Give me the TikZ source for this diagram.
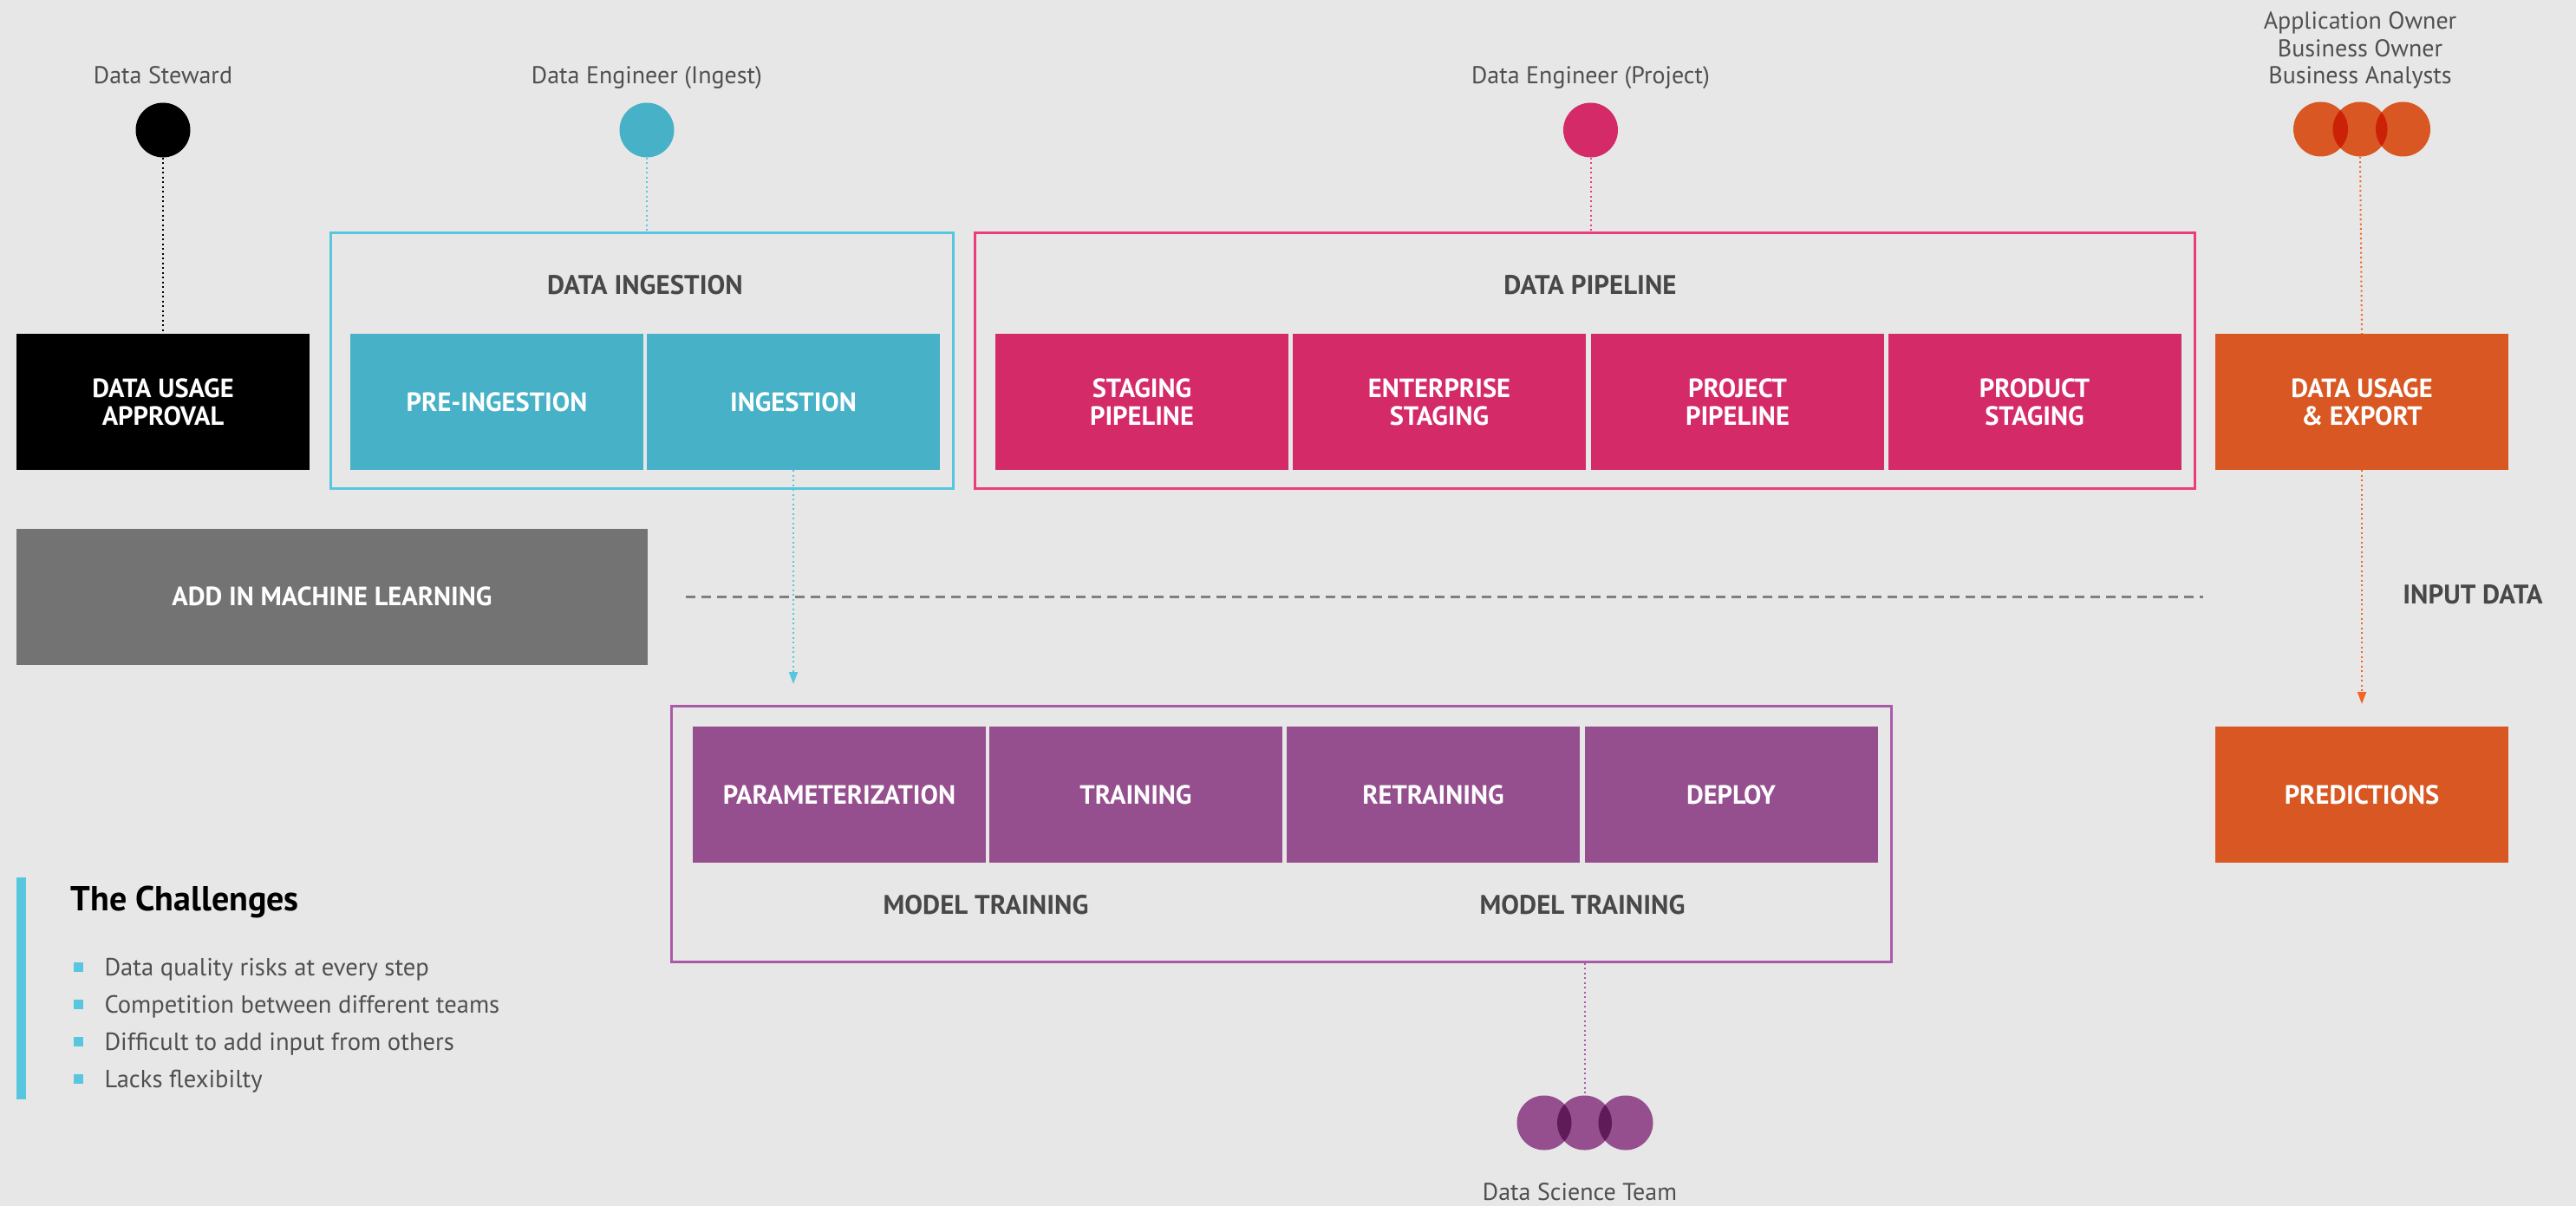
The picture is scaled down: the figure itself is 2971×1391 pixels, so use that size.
\documentclass[tikz,border=0pt]{standalone}
\usepackage{fontspec}
\setmainfont{PT Sans}
\usetikzlibrary{arrows.meta}
\definecolor{bg}{HTML}{E7E7E7}
\definecolor{cyanfill}{HTML}{46B1C7}
\definecolor{cyanline}{HTML}{58C6DF}
\definecolor{pinkfill}{HTML}{D42A68}
\definecolor{pinkline}{HTML}{EC3C7D}
\definecolor{orangefill}{HTML}{D85722}
\definecolor{orangedark}{HTML}{CB2106}
\definecolor{orangearrow}{HTML}{F26522}
\definecolor{purplefill}{HTML}{954E8E}
\definecolor{purpleline}{HTML}{A95BA8}
\definecolor{purpledark}{HTML}{5F1A58}
\definecolor{mlgray}{HTML}{737373}
\definecolor{dashgray}{HTML}{808080}
\definecolor{labelgray}{HTML}{4F4F4F}
\definecolor{sectgray}{HTML}{484848}
\begin{document}
\begin{tikzpicture}[x=1pt,y=-1pt,
  box/.style={rectangle, minimum width=338pt, minimum height=157pt, inner sep=0pt,
    text=white, align=center, font=\bfseries\fontsize{30.5}{32}\selectfont},
  frame/.style={rectangle, draw, line width=3pt, inner sep=0pt},
  role/.style={text=labelgray, align=center, font=\fontsize{28}{31.5}\selectfont},
  section/.style={text=sectgray, font=\bfseries\fontsize{31}{34}\selectfont},
  person/.style={circle, minimum size=63pt, inner sep=0pt},
  dotline/.style={line width=2pt, dash pattern=on 2pt off 3.5pt},
  tip/.style={-{Triangle[length=14pt,width=10pt]}},
  bullet/.style={text=labelgray, font=\fontsize{28.6}{34}\selectfont, anchor=base west},
  sq/.style={rectangle, fill=cyanline, minimum size=11pt, inner sep=0pt}
]
\useasboundingbox (0,0) rectangle (2971,1391);
\fill[bg] (0,0) rectangle (2971,1391);

% ---- role labels
\node[role, anchor=base] (lsteward) at (188,96.5) {Data Steward};
\node[role, anchor=base] (lingest) at (746,96.5) {Data Engineer (Ingest)};
\node[role, anchor=base] (lproject) at (1834.5,96.5) {Data Engineer (Project)};
\node[role] (lowners) at (2722,58) {Application Owner\\Business Owner\\Business Analysts};

% ---- person circles
\node[person, fill=black] (psteward) at (188,150) {};
\node[person, fill=cyanfill] (pingest) at (746,150) {};
\node[person, fill=pinkfill] (pproject) at (1834.5,150) {};

% orange group
\node[person, fill=orangefill] (po1) at (2676.5,149) {};
\node[person, fill=orangefill] (po2) at (2722,149) {};
\node[person, fill=orangefill] (po3) at (2771.5,149) {};
\begin{scope}
  \clip (2676.5,149) circle (31.5);
  \fill[orangedark] (2722,149) circle (31.5);
\end{scope}
\begin{scope}
  \clip (2722,149) circle (31.5);
  \fill[orangedark] (2771.5,149) circle (31.5);
\end{scope}

% purple group
\node[person, fill=purplefill] (pp1) at (1781,1295) {};
\node[person, fill=purplefill] (pp2) at (1827.5,1295) {};
\node[person, fill=purplefill] (pp3) at (1875,1295) {};
\begin{scope}
  \clip (1781,1295) circle (31.5);
  \fill[purpledark] (1827.5,1295) circle (31.5);
\end{scope}
\begin{scope}
  \clip (1827.5,1295) circle (31.5);
  \fill[purpledark] (1875,1295) circle (31.5);
\end{scope}

% ---- frames
\node[frame, draw=cyanline, minimum width=718pt, minimum height=295pt] (fingest) at (740,415.5) {};
\node[frame, draw=pinkline, minimum width=1406.5pt, minimum height=295pt] (fpipe) at (1828,415.5) {};
\node[frame, draw=purpleline, minimum width=1407pt, minimum height=295pt] (fmodel) at (1478.3,961.5) {};

% ---- section labels
\node[section] (singest) at (744,329) {DATA INGESTION};
\node[section] (spipe) at (1834,329) {DATA PIPELINE};
\node[section] (smodel1) at (1137,1044) {MODEL TRAINING};
\node[section] (smodel2) at (1825,1044) {MODEL TRAINING};
\node[section] (sinput) at (2852,686) {INPUT DATA};

% ---- top row boxes
\node[box, fill=black] (approval) at (188,463.5) {DATA USAGE\\APPROVAL};
\node[box, fill=cyanfill] (preing) at (573,463.5) {PRE-INGESTION};
\node[box, fill=cyanfill] (ing) at (915,463.5) {INGESTION};
\node[box, fill=pinkfill] (staging) at (1317,463.5) {STAGING\\PIPELINE};
\node[box, fill=pinkfill] (enterprise) at (1660,463.5) {ENTERPRISE\\STAGING};
\node[box, fill=pinkfill] (projpipe) at (2004,463.5) {PROJECT\\PIPELINE};
\node[box, fill=pinkfill] (product) at (2346.5,463.5) {PRODUCT\\STAGING};
\node[box, fill=orangefill] (export) at (2724,463.5) {DATA USAGE\\\& EXPORT};

% ---- ML box
\node[box, fill=mlgray, minimum width=728pt] (ml) at (383,688) {ADD IN MACHINE LEARNING};

% ---- model row
\node[box, fill=purplefill] (param) at (968,916.5) {PARAMETERIZATION};
\node[box, fill=purplefill] (train) at (1310,916.5) {TRAINING};
\node[box, fill=purplefill] (retrain) at (1653,916.5) {RETRAINING};
\node[box, fill=purplefill] (deploy) at (1996.5,916.5) {DEPLOY};
\node[box, fill=orangefill] (pred) at (2724,916.5) {PREDICTIONS};

% ---- connectors
\draw[dotline, black] (psteward.south) -- (approval.north);
\draw[dotline, cyanline] (pingest.south) -- (pingest.south |- fingest.north);
\draw[dotline, pinkline] (pproject.south) -- (pproject.south |- fpipe.north);
\draw[dotline, orangearrow] (po2.south) -- (export.north);
\draw[dotline, purpleline] (pp2.north |- fmodel.south) -- (pp2.north);

\coordinate (ingend) at (915,789);
\draw[dotline, cyanline, tip] (ing.south) -- (ingend);
\coordinate (expend) at (2724,812);
\draw[dotline, orangearrow, tip] (export.south) -- (expend);

\coordinate (dashA) at (791,688.5);
\coordinate (dashB) at (2541,688.5);
\draw[dashgray, line width=2.5pt, dash pattern=on 11pt off 7pt] (dashA) -- (dashB);

% ---- challenges
\fill[cyanline] (19,1012) rectangle (29.5,1267.5);
\node[anchor=base west, text=black, font=\bfseries\fontsize{40}{44}\selectfont] (chal) at (78,1050) {The Challenges};
\node[sq] (b1) at (90.5,1115) {};
\node[sq] (b2) at (90.5,1158) {};
\node[sq] (b3) at (90.5,1201) {};
\node[sq] (b4) at (90.5,1244) {};
\node[bullet] (t1) at (117,1125) {Data quality risks at every step};
\node[bullet] (t2) at (117,1168) {Competition between different teams};
\node[bullet] (t3) at (117,1211) {Difficult to add input from others};
\node[bullet] (t4) at (117,1254) {Lacks flexibilty};

% ---- data science team label
\node[role, anchor=base] (lds) at (1822,1384) {Data Science Team};
\end{tikzpicture}
\end{document}
